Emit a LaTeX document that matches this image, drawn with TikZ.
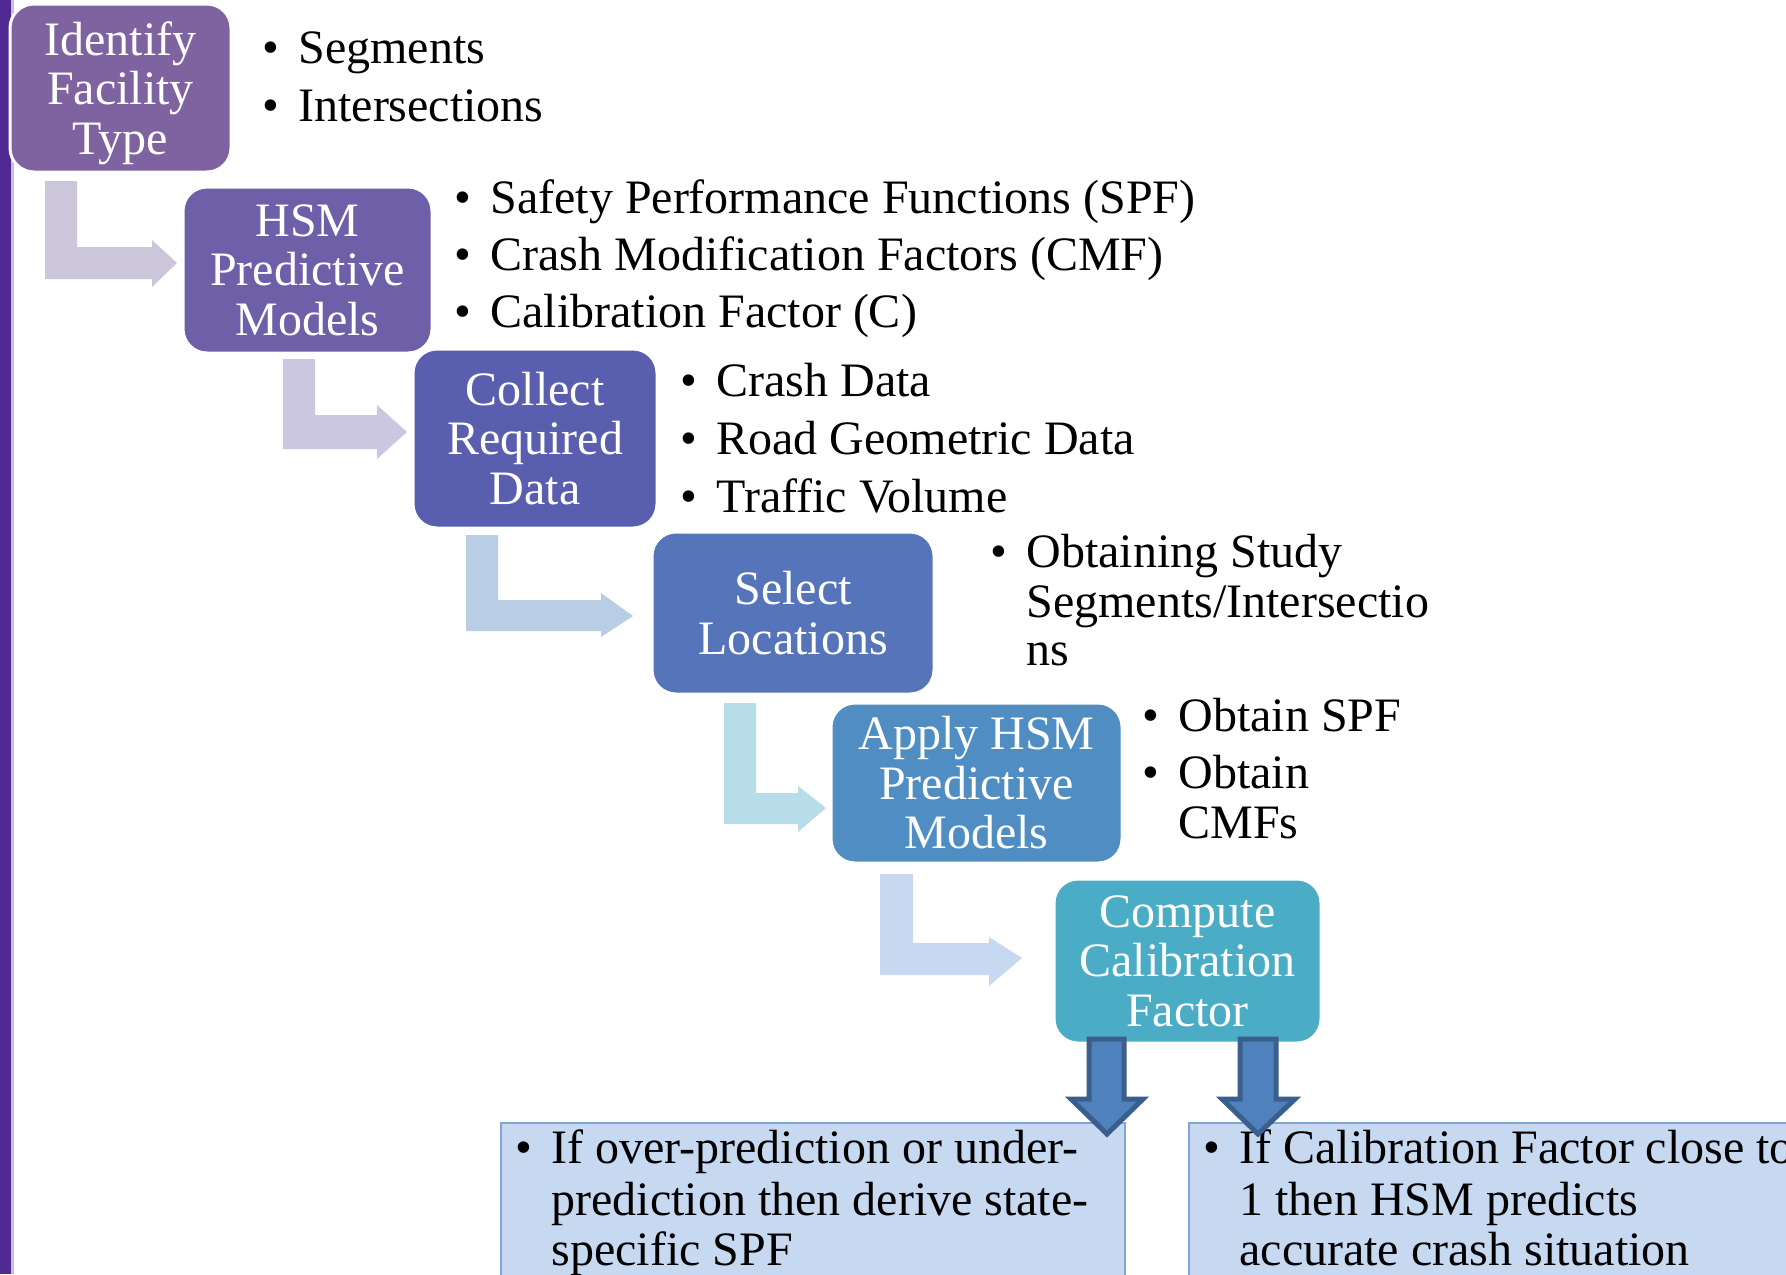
\documentclass[tikz,border=0pt]{standalone}
\usepackage{fontspec}
\setmainfont{Liberation Serif}
\definecolor{cA}{HTML}{7F63A1}
\definecolor{cB}{HTML}{6D5FA8}
\definecolor{cC}{HTML}{5A5EAF}
\definecolor{cD}{HTML}{5574B9}
\definecolor{cE}{HTML}{4F8DC3}
\definecolor{cF}{HTML}{4BACC6}
\definecolor{aA}{HTML}{CCC6DA}
\definecolor{aB}{HTML}{CCC7E0}
\definecolor{aC}{HTML}{B9CDE5}
\definecolor{aD}{HTML}{B7DDE8}
\definecolor{aE}{HTML}{C6D9F1}
\definecolor{resfill}{HTML}{C6D9F1}
\definecolor{resedge}{HTML}{7EA6D8}
\definecolor{darrow}{HTML}{4F81BD}
\definecolor{darrowedge}{HTML}{3A5F8C}
\definecolor{barA}{HTML}{4F2A93}
\definecolor{barB}{HTML}{CDB9EC}
\newcommand\mybul{\llap{\textbullet\hspace{9.5pt}}}
\begin{document}
\begin{tikzpicture}[x=0.5pt,y=-0.5pt,
  stepbox/.style={rounded corners=12pt, draw=white, line width=1.5pt, text=white,
    align=center, font=\fontsize{24}{24.75}\selectfont, inner sep=0pt},
  steptxt/.style={text=white, align=center, font=\fontsize{24}{24.75}\selectfont, inner sep=0pt},
  txt/.style={anchor=base west, inner sep=0pt, font=\fontsize{24}{28}\selectfont, text=black},
  resbox/.style={anchor=north west, fill=resfill, draw=resedge, line width=1pt, inner sep=0pt},
  darr/.style={fill=darrow, draw=darrowedge, line width=2.5pt, line join=miter},
]
\useasboundingbox (0,0) rectangle (1786,1274);
\clip (0,0) rectangle (1786,1274);
\fill[white] (0,0) rectangle (1786,1274);
% left bar
\fill[barA] (0,0) rectangle (11,1274);
\fill[barB] (11,0) rectangle (14,1274);

% L-shaped arrows
\fill[aA] (45,181) -- (77,181) -- (77,247) -- (152,247) -- (152,240) -- (177,263) -- (152,287) -- (152,279) -- (45,279) -- cycle;
\fill[aB] (283,359) -- (315,359) -- (315,415) -- (377,415) -- (377,405) -- (407,432) -- (377,459) -- (377,449) -- (283,449) -- cycle;
\fill[aC] (466,535) -- (498,535) -- (498,600) -- (601,600) -- (601,593) -- (633,616) -- (601,637) -- (601,631) -- (466,631) -- cycle;
\fill[aD] (724,703) -- (756,703) -- (756,793) -- (798,793) -- (798,786) -- (826,808) -- (798,832) -- (798,824) -- (724,824) -- cycle;
\fill[aE] (880,874) -- (913,874) -- (913,943) -- (989,943) -- (989,937) -- (1022,958) -- (989,986) -- (989,975) -- (880,975) -- cycle;

% step boxes
\node[stepbox, fill=cA, minimum width=110.5pt, minimum height=84pt] (b1) at (120.5,88) {};
\node[steptxt] (b1t) at (120.5,93) {Identify\\Facility\\Type};
\node[stepbox, fill=cB, minimum width=124.5pt, minimum height=83pt] (b2) at (307.5,270) {HSM\\Predictive\\Models};
\node[stepbox, fill=cC, minimum width=122pt, minimum height=89.5pt] (b3) at (535,438.5) {Collect\\Required\\Data};
\node[stepbox, fill=cD, minimum width=141pt, minimum height=81pt] (b4) at (793,613) {Select\\Locations};
\node[stepbox, fill=cE, minimum width=145.5pt, minimum height=80pt] (b5) at (976.5,783) {Apply HSM\\Predictive\\Models};
\node[stepbox, fill=cF, minimum width=133.5pt, minimum height=82pt] (b6) at (1187.5,961) {Compute\\Calibration\\Factor};

% bullet texts
\node[txt] (t11) at (298,63) {\mybul Segments};
\node[txt] (t12) at (298,121) {\mybul Intersections};
\node[txt] (t21) at (490,213) {\mybul Safety Performance Functions (SPF)};
\node[txt] (t22) at (490,270) {\mybul Crash Modification Factors (CMF)};
\node[txt] (t23) at (490,327) {\mybul Calibration Factor (C)};
\node[txt] (t31) at (716,396) {\mybul Crash Data};
\node[txt] (t32) at (716,454) {\mybul Road Geometric Data};
\node[txt] (t33) at (716,512) {\mybul Traffic Volume};
\node[txt] (t41) at (1026,567) {\mybul Obtaining Study};
\node[txt] (t42) at (1026,617) {Segments/Intersectio};
\node[txt] (t43) at (1026,665) {ns};
\node[txt] (t51) at (1178,731) {\mybul Obtain SPF};
\node[txt] (t52) at (1178,788) {\mybul Obtain};
\node[txt] (t53) at (1178,838) {CMFs};

% result boxes
\node[resbox, minimum width=312pt, minimum height=100pt] (r1) at (500,1122) {};
\node[resbox, minimum width=350pt, minimum height=100pt] (r2) at (1188,1122) {};
\node[txt] (r11) at (551,1163) {\mybul If over-prediction or under-};
\node[txt] (r12) at (551,1215) {prediction then derive state-};
\node[txt] (r13) at (551,1265) {specific SPF};
\node[txt] (r21) at (1239,1163) {\mybul If Calibration Factor close to};
\node[txt] (r22) at (1239,1215) {1 then HSM predicts};
\node[txt] (r23) at (1239,1265) {accurate crash situation};

% down arrows
\draw[darr] (1089,1039) -- (1124,1039) -- (1124,1099) -- (1143,1099) -- (1107,1134) -- (1071,1099) -- (1089,1099) -- cycle;
\draw[darr] (1240,1039) -- (1276,1039) -- (1276,1099) -- (1295,1099) -- (1258,1134) -- (1222,1099) -- (1240,1099) -- cycle;
\end{tikzpicture}
\end{document}
